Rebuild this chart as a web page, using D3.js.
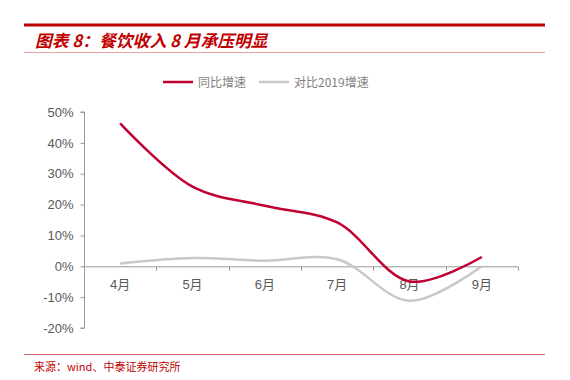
<!DOCTYPE html>
<html>
<head>
<meta charset="utf-8">
<script src="https://cdn.jsdelivr.net/npm/d3@7"></script>
<style>
  body { margin: 0; background: #fff; }
  svg { display: block; }
</style>
</head>
<body>
<svg id="chart" width="570" height="380"></svg>
<script>
const months = ["4月", "5月", "6月", "7月", "8月", "9月"];
const yoyGrowth = [46.3, 25.8, 19.6, 14.2, -4.9, 3.0];
const vs2019Growth = [0.9, 2.7, 1.8, 2.3, -11.2, 0.0];
const yTicks = [-20, -10, 0, 10, 20, 30, 40, 50];

const svg = d3.select("#chart");
const cjk = "'Noto Sans CJK SC', 'Liberation Sans', sans-serif";

// header
svg.append("rect").attr("x", 24).attr("y", 23.5).attr("width", 521).attr("height", 3).attr("fill", "#c00000");
svg.append("text")
  .attr("x", 35).attr("y", 47)
  .attr("font-family", cjk).attr("font-size", 16.8).attr("font-weight", "bold")
  .attr("font-style", "italic").attr("fill", "#c00000")
  .text("图表 8：餐饮收入 8 月承压明显");
svg.append("line").attr("x1", 24).attr("x2", 545).attr("y1", 52.5).attr("y2", 52.5)
  .attr("stroke", "#e8a0a0").attr("stroke-width", 1);

// footer
svg.append("line").attr("x1", 24).attr("x2", 545).attr("y1", 354.5).attr("y2", 354.5)
  .attr("stroke", "#e07070").attr("stroke-width", 1);
svg.append("text")
  .attr("x", 34).attr("y", 371)
  .attr("font-family", "'Noto Sans CJK SC', 'DejaVu Sans Mono', monospace").attr("font-size", 11)
  .attr("fill", "#c00000")
  .text("来源：wind、中泰证券研究所");

// scales
const x = d3.scaleBand().domain(months).range([84, 518]);
const y = d3.scaleLinear().domain([-20, 50]).range([328, 112]);

// y axis
const yAxis = svg.append("g").attr("transform", "translate(84.5,0)")
  .call(d3.axisLeft(y).tickValues(yTicks).tickSize(4).tickFormat(d => d + "%"));
yAxis.select(".domain").attr("stroke", "#999").attr("d", `M-4,${y(-20)}H0V${y(50)}H-4`);
yAxis.selectAll(".tick line").attr("stroke", "#999");
yAxis.selectAll(".tick text")
  .attr("x", -11)
  .attr("fill", "#595959")
  .attr("font-family", "'Liberation Sans', Arial, sans-serif")
  .attr("font-size", 13);

// x axis at 0
const xAxis = svg.append("g").attr("transform", `translate(0,${y(0) + 0.5})`);
xAxis.append("line").attr("x1", 84).attr("x2", 518).attr("stroke", "#999");
const bounds = months.map(m => x(m)).concat([x.range()[1]]);
xAxis.selectAll(".tk").data(bounds).join("line")
  .attr("x1", d => Math.round(d) + 0.5).attr("x2", d => Math.round(d) + 0.5)
  .attr("y1", 0).attr("y2", 4).attr("stroke", "#999");
xAxis.selectAll(".lbl").data(months).join("text")
  .attr("x", d => x(d) + x.bandwidth() / 2)
  .attr("y", 22)
  .attr("text-anchor", "middle")
  .attr("fill", "#595959")
  .attr("font-family", "'Liberation Sans', 'Noto Sans CJK SC', sans-serif")
  .attr("font-size", 13)
  .text(d => d);

// lines
const line = d3.line()
  .x((d, i) => x(months[i]) + x.bandwidth() / 2)
  .y(d => y(d))
  .curve(d3.curveCatmullRom.alpha(0.5));

svg.append("path").datum(vs2019Growth)
  .attr("d", line).attr("fill", "none")
  .attr("stroke", "#c8c8c8").attr("stroke-width", 2.5);
svg.append("path").datum(yoyGrowth)
  .attr("d", line).attr("fill", "none")
  .attr("stroke", "#c00030").attr("stroke-width", 2.5);

// legend
const legend = [
  { name: "同比增速", color: "#c00030", x: 163 },
  { name: "对比2019增速", color: "#c8c8c8", x: 259 }
];
const lg = svg.append("g").selectAll("g").data(legend).join("g")
  .attr("transform", d => `translate(${d.x},82)`);
lg.append("line").attr("x1", 0).attr("x2", 30).attr("stroke", d => d.color).attr("stroke-width", 2.5);
lg.append("text").attr("x", 35).attr("y", 4.5)
  .attr("fill", "#7f7f7f")
  .attr("font-family", "'Noto Sans CJK SC', serif")
  .attr("font-size", 12)
  .text(d => d.name);
</script>
</body>
</html>
